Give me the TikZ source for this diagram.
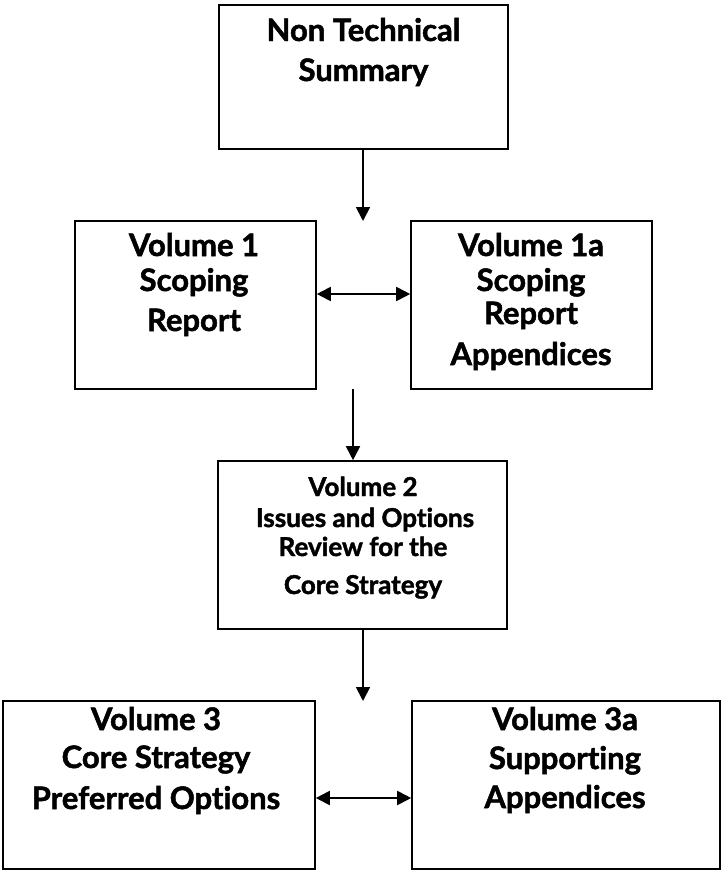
\documentclass[tikz,border=0pt]{standalone}
\usepackage{fontspec}
\setmainfont{Lato}[Ligatures=NoCommon, BoldFeatures={FakeBold=1.6}]
\usetikzlibrary{arrows.meta}
\tikzset{
  box/.style={draw=black, line width=1.6pt, rectangle, inner sep=0pt, minimum width=#1},
  box/.default=241,
  txt/.style={anchor=base, inner sep=0pt, font=\fontsize{31}{35}\selectfont\bfseries},
  txtsmall/.style={anchor=base, inner sep=0pt, font=\fontsize{26}{30}\selectfont\bfseries},
  conn/.style={line width=1.8pt, -{Triangle[length=14pt,width=14pt]}},
  dconn/.style={line width=1.8pt, {Triangle[length=14pt,width=14pt]}-{Triangle[length=14pt,width=14pt]}}
}
\begin{document}
\begin{tikzpicture}[x=1pt,y=-1pt]
\useasboundingbox (0,0) rectangle (723,870);
% boxes
\node[box=289, minimum height=144] (nts) at (363.5,77) {};
\node[box=241, minimum height=168] (v1) at (195.5,305) {};
\node[box=241, minimum height=168] (v1a) at (531.5,305) {};
\node[box=289, minimum height=168] (v2) at (362.5,545) {};
\node[box=312, minimum height=168] (v3) at (159,785) {};
\node[box=308, minimum height=168] (v3a) at (566,785) {};
% texts
\node[txt] (nts1) at (363.5,41) {Non Technical};
\node[txt] (nts2) at (363.5,81) {Summary};
\node[txt] (v1t1) at (194,256) {Volume 1};
\node[txt] (v1t2) at (194,291) {Scoping};
\node[txt] (v1t3) at (194,331) {Report};
\node[txt] (v1at1) at (531,256) {Volume 1a};
\node[txt] (v1at2) at (531,291) {Scoping};
\node[txt] (v1at3) at (531,324) {Report};
\node[txt] (v1at4) at (531,365) {Appendices};
\node[txtsmall] (v2t1) at (363,496) {Volume 2};
\node[txtsmall] (v2t2) at (365,527) {Issues and Options};
\node[txtsmall] (v2t3) at (363,556) {Review for the};
\node[txtsmall] (v2t4) at (363,594) {Core Strategy};
\node[txt] (v3t1) at (156,730) {Volume 3};
\node[txt] (v3t2) at (156,768) {Core Strategy};
\node[txt] (v3t3) at (156,809) {Preferred Options};
\node[txt] (v3at1) at (565,730) {Volume 3a};
\node[txt] (v3at2) at (565,769) {Supporting};
\node[txt] (v3at3) at (565,808) {Appendices};
% connectors
\coordinate (a1end) at (363,221);
\coordinate (a2start) at (353,389);
\coordinate (a3end) at (363,701);
\coordinate (r2) at (0,294);
\coordinate (r3) at (0,798);
\draw[conn] (nts.south -| a1end) -- (a1end);
\draw[conn] (a2start) -- (v2.north -| a2start);
\draw[conn] (v2.south -| a3end) -- (a3end);
\draw[dconn] (v1.east |- r2) -- (v1a.west |- r2);
\draw[dconn] (v3.east |- r3) -- (v3a.west |- r3);
\end{tikzpicture}
\end{document}
